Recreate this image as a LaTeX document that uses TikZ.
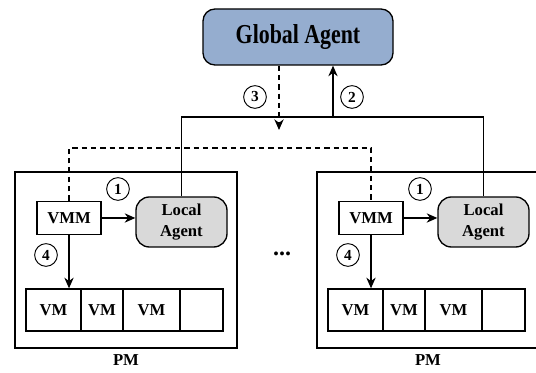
\documentclass[tikz,border=0pt]{standalone}
\usepackage{fontspec}
\setmainfont{Liberation Serif}
\newfontfamily\gafont{Liberation Serif}[FakeStretch=0.8]
\usetikzlibrary{arrows.meta,positioning}
\definecolor{gablue}{RGB}{149,173,207}
\definecolor{lagray}{RGB}{217,217,217}

\tikzset{
  box/.style={draw,line width=1pt,inner sep=0pt,font=\bfseries\fontsize{12.5}{16}\selectfont},
  agent/.style={box,rounded corners=10pt,align=center},
  num/.style={circle,draw,line width=0.7pt,inner sep=0pt,minimum size=17pt,font=\bfseries\fontsize{11.5}{13}\selectfont},
  link/.style={line width=1pt,-{Stealth[length=8pt,width=7pt]}},
  dashlink/.style={line width=1pt,dash pattern=on 4pt off 3pt},
}

\begin{document}
\begin{tikzpicture}[x=0.75pt,y=-0.75pt]
\useasboundingbox (0,0) rectangle (536,373);

% Global agent
\node[agent,fill=gablue,minimum width=142.5pt,minimum height=42pt,rounded corners=9pt,
  font=\gafont\bfseries\fontsize{20.5}{24}\selectfont] (ga) at (298,37) {Global Agent};

% Physical machines
\foreach \i/\dx in {1/0,2/302}{
\begin{scope}[shift={(\dx,0)}]
\node[box,minimum width=166.5pt,minimum height=132pt] (pm\i) at (126,260) {};
\node[below=1pt of pm\i,font=\bfseries\fontsize{12.5}{14}\selectfont] (pmlbl\i) {PM};

\node[box,minimum width=48pt,minimum height=24.75pt] (vmm\i) at (69,218) {VMM};
\node[agent,fill=lagray,minimum width=68.25pt,minimum height=37.5pt] (la\i) at (181.5,222) {Local\\Agent};

% VM row
\node[box,minimum width=41.25pt,minimum height=31.5pt] (vm\i-1) at (53.5,310) {VM};
\node[box,minimum width=31.5pt,minimum height=31.5pt] (vm\i-2) at (102,310) {VM};
\node[box,minimum width=42.75pt,minimum height=31.5pt] (vm\i-3) at (151.5,310) {VM};
\node[box,minimum width=32.25pt,minimum height=31.5pt] (vm\i-4) at (201.5,310) {};

\draw[link] (vmm\i.east) -- (vmm\i.east -| la\i.west);
\draw[link] (vmm\i.south) -- (vmm\i.south |- vm\i-1.north);

% Steps
\node[num] (one\i) at (118,189) {1};
\node[num] (four\i) at (46,255) {4};
\end{scope}
}

\node[font=\bfseries\fontsize{18}{20}\selectfont] (dots) at (282,254) {...};

% Links to the global agent
\coordinate (up) at (333,117);
\coordinate (down) at (279,130);
\coordinate (mid) at (279,148);
\draw[line width=1pt] (la1.north) |- (up) -| (la2.north);
\draw[link] (up) -- (up |- ga.south);
\draw[link,dash pattern=on 4pt off 3pt] (ga.south -| down) -- (down);
\draw[dashlink] (vmm1.north) |- (mid) -| (vmm2.north);

\node[num] (three) at (255,97) {3};
\node[num] (two) at (352,97) {2};

\end{tikzpicture}
\end{document}
